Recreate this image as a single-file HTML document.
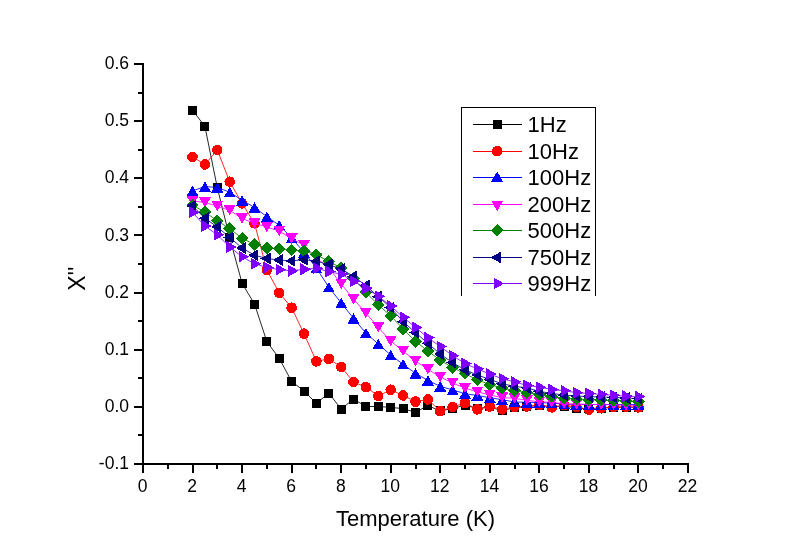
<!DOCTYPE html>
<html lang="en"><head><meta charset="utf-8"><title>Chart</title>
<style>html,body{margin:0;padding:0;background:#fff;}svg{display:block;}</style></head>
<body>
<svg width="800" height="557" viewBox="0 0 800 557">
<rect width="800" height="557" fill="#ffffff"/>
<g stroke="#000" stroke-width="2" fill="none" shape-rendering="crispEdges">
<line x1="143" y1="63" x2="143" y2="465"/>
<line x1="134" y1="464" x2="689" y2="464"/>
<line x1="138" y1="435.4" x2="143" y2="435.4"/>
<line x1="134" y1="406.9" x2="143" y2="406.9"/>
<line x1="138" y1="378.3" x2="143" y2="378.3"/>
<line x1="134" y1="349.7" x2="143" y2="349.7"/>
<line x1="138" y1="321.1" x2="143" y2="321.1"/>
<line x1="134" y1="292.6" x2="143" y2="292.6"/>
<line x1="138" y1="264.0" x2="143" y2="264.0"/>
<line x1="134" y1="235.4" x2="143" y2="235.4"/>
<line x1="138" y1="206.9" x2="143" y2="206.9"/>
<line x1="134" y1="178.3" x2="143" y2="178.3"/>
<line x1="138" y1="149.7" x2="143" y2="149.7"/>
<line x1="134" y1="121.2" x2="143" y2="121.2"/>
<line x1="138" y1="92.6" x2="143" y2="92.6"/>
<line x1="134" y1="64.0" x2="143" y2="64.0"/>
<line x1="143.0" y1="464" x2="143.0" y2="473"/>
<line x1="167.8" y1="464" x2="167.8" y2="469"/>
<line x1="192.5" y1="464" x2="192.5" y2="473"/>
<line x1="217.3" y1="464" x2="217.3" y2="469"/>
<line x1="242.1" y1="464" x2="242.1" y2="473"/>
<line x1="266.9" y1="464" x2="266.9" y2="469"/>
<line x1="291.6" y1="464" x2="291.6" y2="473"/>
<line x1="316.4" y1="464" x2="316.4" y2="469"/>
<line x1="341.2" y1="464" x2="341.2" y2="473"/>
<line x1="365.9" y1="464" x2="365.9" y2="469"/>
<line x1="390.7" y1="464" x2="390.7" y2="473"/>
<line x1="415.5" y1="464" x2="415.5" y2="469"/>
<line x1="440.2" y1="464" x2="440.2" y2="473"/>
<line x1="465.0" y1="464" x2="465.0" y2="469"/>
<line x1="489.8" y1="464" x2="489.8" y2="473"/>
<line x1="514.5" y1="464" x2="514.5" y2="469"/>
<line x1="539.3" y1="464" x2="539.3" y2="473"/>
<line x1="564.1" y1="464" x2="564.1" y2="469"/>
<line x1="588.9" y1="464" x2="588.9" y2="473"/>
<line x1="613.6" y1="464" x2="613.6" y2="469"/>
<line x1="638.4" y1="464" x2="638.4" y2="473"/>
<line x1="663.2" y1="464" x2="663.2" y2="469"/>
<line x1="687.9" y1="464" x2="687.9" y2="473"/>
</g>
<g font-family="'Liberation Sans', sans-serif" font-size="17.5" fill="#000">
<text x="129" y="469.1" text-anchor="end">-0.1</text>
<text x="129" y="412.0" text-anchor="end">0.0</text>
<text x="129" y="354.8" text-anchor="end">0.1</text>
<text x="129" y="297.7" text-anchor="end">0.2</text>
<text x="129" y="240.5" text-anchor="end">0.3</text>
<text x="129" y="183.4" text-anchor="end">0.4</text>
<text x="129" y="126.3" text-anchor="end">0.5</text>
<text x="129" y="69.1" text-anchor="end">0.6</text>
<text x="142.6" y="491.6" text-anchor="middle">0</text>
<text x="192.1" y="491.6" text-anchor="middle">2</text>
<text x="241.7" y="491.6" text-anchor="middle">4</text>
<text x="291.2" y="491.6" text-anchor="middle">6</text>
<text x="340.8" y="491.6" text-anchor="middle">8</text>
<text x="390.3" y="491.6" text-anchor="middle">10</text>
<text x="439.8" y="491.6" text-anchor="middle">12</text>
<text x="489.4" y="491.6" text-anchor="middle">14</text>
<text x="538.9" y="491.6" text-anchor="middle">16</text>
<text x="588.5" y="491.6" text-anchor="middle">18</text>
<text x="638.0" y="491.6" text-anchor="middle">20</text>
<text x="687.5" y="491.6" text-anchor="middle">22</text>
</g>
<text x="415.5" y="526" text-anchor="middle" font-family="'Liberation Sans', sans-serif" font-size="22" fill="#000">Temperature (K)</text>
<text transform="translate(84.8,290.8) rotate(-90)" font-family="'Liberation Sans', sans-serif" font-size="23" fill="#000">X''</text>
<polyline points="192.5,110.3 204.9,126.3 217.3,187.7 229.7,237.7 242.1,283.4 254.5,304.0 266.9,341.7 279.2,358.3 291.6,381.4 304.0,391.0 316.4,403.4 328.8,393.1 341.2,409.1 353.5,399.1 365.9,406.5 378.3,406.5 390.7,407.4 403.1,408.6 415.5,412.3 427.9,405.6 440.2,410.9 452.6,408.6 465.0,405.1 477.4,408.6 489.8,406.9 502.2,410.9 514.5,407.4 526.9,406.9 539.3,405.1 551.7,406.9 564.1,406.1 576.5,408.1 588.9,408.6 601.2,408.0 613.6,407.4 626.0,407.1 638.4,407.4" fill="none" stroke="#000000" stroke-width="0.85"/>
<g shape-rendering="crispEdges">
<rect x="188.0" y="105.8" width="9" height="9" fill="#000000"/>
<rect x="200.4" y="121.8" width="9" height="9" fill="#000000"/>
<rect x="212.8" y="183.2" width="9" height="9" fill="#000000"/>
<rect x="225.2" y="233.2" width="9" height="9" fill="#000000"/>
<rect x="237.6" y="278.9" width="9" height="9" fill="#000000"/>
<rect x="250.0" y="299.5" width="9" height="9" fill="#000000"/>
<rect x="262.4" y="337.2" width="9" height="9" fill="#000000"/>
<rect x="274.7" y="353.8" width="9" height="9" fill="#000000"/>
<rect x="287.1" y="376.9" width="9" height="9" fill="#000000"/>
<rect x="299.5" y="386.5" width="9" height="9" fill="#000000"/>
<rect x="311.9" y="398.9" width="9" height="9" fill="#000000"/>
<rect x="324.3" y="388.6" width="9" height="9" fill="#000000"/>
<rect x="336.7" y="404.6" width="9" height="9" fill="#000000"/>
<rect x="349.0" y="394.6" width="9" height="9" fill="#000000"/>
<rect x="361.4" y="402.0" width="9" height="9" fill="#000000"/>
<rect x="373.8" y="402.0" width="9" height="9" fill="#000000"/>
<rect x="386.2" y="402.9" width="9" height="9" fill="#000000"/>
<rect x="398.6" y="404.1" width="9" height="9" fill="#000000"/>
<rect x="411.0" y="407.8" width="9" height="9" fill="#000000"/>
<rect x="423.4" y="401.1" width="9" height="9" fill="#000000"/>
<rect x="435.7" y="406.4" width="9" height="9" fill="#000000"/>
<rect x="448.1" y="404.1" width="9" height="9" fill="#000000"/>
<rect x="460.5" y="400.6" width="9" height="9" fill="#000000"/>
<rect x="472.9" y="404.1" width="9" height="9" fill="#000000"/>
<rect x="485.3" y="402.4" width="9" height="9" fill="#000000"/>
<rect x="497.7" y="406.4" width="9" height="9" fill="#000000"/>
<rect x="510.0" y="402.9" width="9" height="9" fill="#000000"/>
<rect x="522.4" y="402.4" width="9" height="9" fill="#000000"/>
<rect x="534.8" y="400.6" width="9" height="9" fill="#000000"/>
<rect x="547.2" y="402.4" width="9" height="9" fill="#000000"/>
<rect x="559.6" y="401.6" width="9" height="9" fill="#000000"/>
<rect x="572.0" y="403.6" width="9" height="9" fill="#000000"/>
<rect x="584.4" y="404.1" width="9" height="9" fill="#000000"/>
<rect x="596.7" y="403.5" width="9" height="9" fill="#000000"/>
<rect x="609.1" y="402.9" width="9" height="9" fill="#000000"/>
<rect x="621.5" y="402.6" width="9" height="9" fill="#000000"/>
<rect x="633.9" y="402.9" width="9" height="9" fill="#000000"/>
</g>
<polyline points="192.5,156.9 204.9,164.5 217.3,150.0 229.7,181.7 242.1,203.4 254.5,223.4 266.9,270.0 279.2,292.8 291.6,307.7 304.0,333.7 316.4,361.4 328.8,358.8 341.2,367.0 353.5,381.9 365.9,387.1 378.3,396.0 390.7,389.7 403.1,395.5 415.5,401.6 427.9,399.5 440.2,411.2 452.6,406.9 465.0,403.0 477.4,409.4 489.8,406.5 502.2,409.3 514.5,406.9 526.9,406.5 539.3,405.1 551.7,407.4 564.1,405.1 576.5,407.1 588.9,409.6 601.2,408.3 613.6,407.1 626.0,406.9 638.4,407.4" fill="none" stroke="#ff0000" stroke-width="0.85"/>
<g shape-rendering="crispEdges">
<circle cx="192.5" cy="156.9" r="5.3" fill="#ff0000"/>
<circle cx="204.9" cy="164.5" r="5.3" fill="#ff0000"/>
<circle cx="217.3" cy="150.0" r="5.3" fill="#ff0000"/>
<circle cx="229.7" cy="181.7" r="5.3" fill="#ff0000"/>
<circle cx="242.1" cy="203.4" r="5.3" fill="#ff0000"/>
<circle cx="254.5" cy="223.4" r="5.3" fill="#ff0000"/>
<circle cx="266.9" cy="270.0" r="5.3" fill="#ff0000"/>
<circle cx="279.2" cy="292.8" r="5.3" fill="#ff0000"/>
<circle cx="291.6" cy="307.7" r="5.3" fill="#ff0000"/>
<circle cx="304.0" cy="333.7" r="5.3" fill="#ff0000"/>
<circle cx="316.4" cy="361.4" r="5.3" fill="#ff0000"/>
<circle cx="328.8" cy="358.8" r="5.3" fill="#ff0000"/>
<circle cx="341.2" cy="367.0" r="5.3" fill="#ff0000"/>
<circle cx="353.5" cy="381.9" r="5.3" fill="#ff0000"/>
<circle cx="365.9" cy="387.1" r="5.3" fill="#ff0000"/>
<circle cx="378.3" cy="396.0" r="5.3" fill="#ff0000"/>
<circle cx="390.7" cy="389.7" r="5.3" fill="#ff0000"/>
<circle cx="403.1" cy="395.5" r="5.3" fill="#ff0000"/>
<circle cx="415.5" cy="401.6" r="5.3" fill="#ff0000"/>
<circle cx="427.9" cy="399.5" r="5.3" fill="#ff0000"/>
<circle cx="440.2" cy="411.2" r="5.3" fill="#ff0000"/>
<circle cx="452.6" cy="406.9" r="5.3" fill="#ff0000"/>
<circle cx="465.0" cy="403.0" r="5.3" fill="#ff0000"/>
<circle cx="477.4" cy="409.4" r="5.3" fill="#ff0000"/>
<circle cx="489.8" cy="406.5" r="5.3" fill="#ff0000"/>
<circle cx="502.2" cy="409.3" r="5.3" fill="#ff0000"/>
<circle cx="514.5" cy="406.9" r="5.3" fill="#ff0000"/>
<circle cx="526.9" cy="406.5" r="5.3" fill="#ff0000"/>
<circle cx="539.3" cy="405.1" r="5.3" fill="#ff0000"/>
<circle cx="551.7" cy="407.4" r="5.3" fill="#ff0000"/>
<circle cx="564.1" cy="405.1" r="5.3" fill="#ff0000"/>
<circle cx="576.5" cy="407.1" r="5.3" fill="#ff0000"/>
<circle cx="588.9" cy="409.6" r="5.3" fill="#ff0000"/>
<circle cx="601.2" cy="408.3" r="5.3" fill="#ff0000"/>
<circle cx="613.6" cy="407.1" r="5.3" fill="#ff0000"/>
<circle cx="626.0" cy="406.9" r="5.3" fill="#ff0000"/>
<circle cx="638.4" cy="407.4" r="5.3" fill="#ff0000"/>
</g>
<polyline points="192.5,190.9 204.9,186.6 217.3,187.4 229.7,192.2 242.1,200.3 254.5,207.4 266.9,216.7 279.2,225.2 291.6,237.9 304.0,252.3 316.4,268.1 328.8,287.2 341.2,302.9 353.5,318.4 365.9,333.1 378.3,344.0 390.7,355.1 403.1,364.2 415.5,373.4 427.9,380.3 440.2,386.4 452.6,389.9 465.0,393.7 477.4,395.5 489.8,397.7 502.2,399.7 514.5,402.0 526.9,402.3 539.3,402.5 551.7,403.1 564.1,404.1 576.5,404.3 588.9,404.5 601.2,404.5 613.6,404.5 626.0,404.5 638.4,404.5" fill="none" stroke="#0000ff" stroke-width="0.85"/>
<g shape-rendering="crispEdges">
<polygon points="192.5,185.7 186.5,196.1 198.5,196.1" fill="#0000ff"/>
<polygon points="204.9,181.4 198.9,191.8 210.9,191.8" fill="#0000ff"/>
<polygon points="217.3,182.2 211.3,192.6 223.3,192.6" fill="#0000ff"/>
<polygon points="229.7,187.0 223.7,197.4 235.7,197.4" fill="#0000ff"/>
<polygon points="242.1,195.1 236.1,205.5 248.1,205.5" fill="#0000ff"/>
<polygon points="254.5,202.2 248.5,212.6 260.5,212.6" fill="#0000ff"/>
<polygon points="266.9,211.5 260.9,221.9 272.9,221.9" fill="#0000ff"/>
<polygon points="279.2,220.0 273.2,230.4 285.2,230.4" fill="#0000ff"/>
<polygon points="291.6,232.7 285.6,243.1 297.6,243.1" fill="#0000ff"/>
<polygon points="304.0,247.1 298.0,257.5 310.0,257.5" fill="#0000ff"/>
<polygon points="316.4,262.9 310.4,273.3 322.4,273.3" fill="#0000ff"/>
<polygon points="328.8,282.0 322.8,292.4 334.8,292.4" fill="#0000ff"/>
<polygon points="341.2,297.7 335.2,308.1 347.2,308.1" fill="#0000ff"/>
<polygon points="353.5,313.2 347.5,323.6 359.5,323.6" fill="#0000ff"/>
<polygon points="365.9,327.9 359.9,338.3 371.9,338.3" fill="#0000ff"/>
<polygon points="378.3,338.8 372.3,349.2 384.3,349.2" fill="#0000ff"/>
<polygon points="390.7,349.9 384.7,360.3 396.7,360.3" fill="#0000ff"/>
<polygon points="403.1,359.0 397.1,369.4 409.1,369.4" fill="#0000ff"/>
<polygon points="415.5,368.2 409.5,378.6 421.5,378.6" fill="#0000ff"/>
<polygon points="427.9,375.1 421.9,385.5 433.9,385.5" fill="#0000ff"/>
<polygon points="440.2,381.2 434.2,391.6 446.2,391.6" fill="#0000ff"/>
<polygon points="452.6,384.7 446.6,395.1 458.6,395.1" fill="#0000ff"/>
<polygon points="465.0,388.5 459.0,398.9 471.0,398.9" fill="#0000ff"/>
<polygon points="477.4,390.3 471.4,400.7 483.4,400.7" fill="#0000ff"/>
<polygon points="489.8,392.5 483.8,402.9 495.8,402.9" fill="#0000ff"/>
<polygon points="502.2,394.5 496.2,404.9 508.2,404.9" fill="#0000ff"/>
<polygon points="514.5,396.8 508.5,407.2 520.5,407.2" fill="#0000ff"/>
<polygon points="526.9,397.1 520.9,407.5 532.9,407.5" fill="#0000ff"/>
<polygon points="539.3,397.3 533.3,407.7 545.3,407.7" fill="#0000ff"/>
<polygon points="551.7,397.9 545.7,408.3 557.7,408.3" fill="#0000ff"/>
<polygon points="564.1,398.9 558.1,409.3 570.1,409.3" fill="#0000ff"/>
<polygon points="576.5,399.1 570.5,409.5 582.5,409.5" fill="#0000ff"/>
<polygon points="588.9,399.3 582.9,409.7 594.9,409.7" fill="#0000ff"/>
<polygon points="601.2,399.3 595.2,409.7 607.2,409.7" fill="#0000ff"/>
<polygon points="613.6,399.3 607.6,409.7 619.6,409.7" fill="#0000ff"/>
<polygon points="626.0,399.3 620.0,409.7 632.0,409.7" fill="#0000ff"/>
<polygon points="638.4,399.3 632.4,409.7 644.4,409.7" fill="#0000ff"/>
</g>
<polyline points="192.5,201.2 204.9,202.3 217.3,206.3 229.7,210.3 242.1,218.5 254.5,223.4 266.9,227.1 279.2,231.1 291.6,238.6 304.0,245.2 316.4,258.0 328.8,268.0 341.2,283.9 353.5,299.1 365.9,313.0 378.3,327.4 390.7,341.1 403.1,351.0 415.5,361.1 427.9,369.3 440.2,376.9 452.6,383.0 465.0,388.1 477.4,391.8 489.8,395.0 502.2,397.6 514.5,398.3 526.9,400.3 539.3,401.8 551.7,402.4 564.1,403.7 576.5,404.2 588.9,404.3 601.2,404.7 613.6,404.7 626.0,405.4 638.4,405.1" fill="none" stroke="#ff00ff" stroke-width="0.85"/>
<g shape-rendering="crispEdges">
<polygon points="192.5,206.4 186.5,196.0 198.5,196.0" fill="#ff00ff"/>
<polygon points="204.9,207.5 198.9,197.1 210.9,197.1" fill="#ff00ff"/>
<polygon points="217.3,211.5 211.3,201.1 223.3,201.1" fill="#ff00ff"/>
<polygon points="229.7,215.5 223.7,205.1 235.7,205.1" fill="#ff00ff"/>
<polygon points="242.1,223.7 236.1,213.3 248.1,213.3" fill="#ff00ff"/>
<polygon points="254.5,228.6 248.5,218.2 260.5,218.2" fill="#ff00ff"/>
<polygon points="266.9,232.3 260.9,221.9 272.9,221.9" fill="#ff00ff"/>
<polygon points="279.2,236.3 273.2,225.9 285.2,225.9" fill="#ff00ff"/>
<polygon points="291.6,243.8 285.6,233.4 297.6,233.4" fill="#ff00ff"/>
<polygon points="304.0,250.4 298.0,240.0 310.0,240.0" fill="#ff00ff"/>
<polygon points="316.4,263.2 310.4,252.8 322.4,252.8" fill="#ff00ff"/>
<polygon points="328.8,273.2 322.8,262.8 334.8,262.8" fill="#ff00ff"/>
<polygon points="341.2,289.1 335.2,278.7 347.2,278.7" fill="#ff00ff"/>
<polygon points="353.5,304.3 347.5,293.9 359.5,293.9" fill="#ff00ff"/>
<polygon points="365.9,318.2 359.9,307.8 371.9,307.8" fill="#ff00ff"/>
<polygon points="378.3,332.6 372.3,322.2 384.3,322.2" fill="#ff00ff"/>
<polygon points="390.7,346.3 384.7,335.9 396.7,335.9" fill="#ff00ff"/>
<polygon points="403.1,356.2 397.1,345.8 409.1,345.8" fill="#ff00ff"/>
<polygon points="415.5,366.3 409.5,355.9 421.5,355.9" fill="#ff00ff"/>
<polygon points="427.9,374.5 421.9,364.1 433.9,364.1" fill="#ff00ff"/>
<polygon points="440.2,382.1 434.2,371.7 446.2,371.7" fill="#ff00ff"/>
<polygon points="452.6,388.2 446.6,377.8 458.6,377.8" fill="#ff00ff"/>
<polygon points="465.0,393.3 459.0,382.9 471.0,382.9" fill="#ff00ff"/>
<polygon points="477.4,397.0 471.4,386.6 483.4,386.6" fill="#ff00ff"/>
<polygon points="489.8,400.2 483.8,389.8 495.8,389.8" fill="#ff00ff"/>
<polygon points="502.2,402.8 496.2,392.4 508.2,392.4" fill="#ff00ff"/>
<polygon points="514.5,403.5 508.5,393.1 520.5,393.1" fill="#ff00ff"/>
<polygon points="526.9,405.5 520.9,395.1 532.9,395.1" fill="#ff00ff"/>
<polygon points="539.3,407.0 533.3,396.6 545.3,396.6" fill="#ff00ff"/>
<polygon points="551.7,407.6 545.7,397.2 557.7,397.2" fill="#ff00ff"/>
<polygon points="564.1,408.9 558.1,398.5 570.1,398.5" fill="#ff00ff"/>
<polygon points="576.5,409.4 570.5,399.0 582.5,399.0" fill="#ff00ff"/>
<polygon points="588.9,409.5 582.9,399.1 594.9,399.1" fill="#ff00ff"/>
<polygon points="601.2,409.9 595.2,399.5 607.2,399.5" fill="#ff00ff"/>
<polygon points="613.6,409.9 607.6,399.5 619.6,399.5" fill="#ff00ff"/>
<polygon points="626.0,410.6 620.0,400.2 632.0,400.2" fill="#ff00ff"/>
<polygon points="638.4,410.3 632.4,399.9 644.4,399.9" fill="#ff00ff"/>
</g>
<polyline points="192.5,205.2 204.9,212.0 217.3,220.8 229.7,228.6 242.1,238.3 254.5,244.5 266.9,248.0 279.2,248.7 291.6,250.0 304.0,251.0 316.4,254.9 328.8,261.2 341.2,268.1 353.5,278.6 365.9,292.3 378.3,304.9 390.7,315.7 403.1,329.0 415.5,341.3 427.9,351.1 440.2,360.1 452.6,367.7 465.0,373.7 477.4,379.9 489.8,384.6 502.2,388.1 514.5,390.6 526.9,392.7 539.3,394.5 551.7,396.6 564.1,398.4 576.5,399.0 588.9,399.7 601.2,400.1 613.6,400.5 626.0,400.9 638.4,401.5" fill="none" stroke="#008000" stroke-width="0.85"/>
<g shape-rendering="crispEdges">
<polygon points="192.5,198.9 198.8,205.2 192.5,211.5 186.2,205.2" fill="#008000"/>
<polygon points="204.9,205.7 211.2,212.0 204.9,218.3 198.6,212.0" fill="#008000"/>
<polygon points="217.3,214.5 223.6,220.8 217.3,227.1 211.0,220.8" fill="#008000"/>
<polygon points="229.7,222.3 236.0,228.6 229.7,234.9 223.4,228.6" fill="#008000"/>
<polygon points="242.1,232.0 248.4,238.3 242.1,244.6 235.8,238.3" fill="#008000"/>
<polygon points="254.5,238.2 260.8,244.5 254.5,250.8 248.2,244.5" fill="#008000"/>
<polygon points="266.9,241.7 273.2,248.0 266.9,254.3 260.6,248.0" fill="#008000"/>
<polygon points="279.2,242.4 285.5,248.7 279.2,255.0 272.9,248.7" fill="#008000"/>
<polygon points="291.6,243.7 297.9,250.0 291.6,256.3 285.3,250.0" fill="#008000"/>
<polygon points="304.0,244.7 310.3,251.0 304.0,257.3 297.7,251.0" fill="#008000"/>
<polygon points="316.4,248.6 322.7,254.9 316.4,261.2 310.1,254.9" fill="#008000"/>
<polygon points="328.8,254.9 335.1,261.2 328.8,267.5 322.5,261.2" fill="#008000"/>
<polygon points="341.2,261.8 347.5,268.1 341.2,274.4 334.9,268.1" fill="#008000"/>
<polygon points="353.5,272.3 359.8,278.6 353.5,284.9 347.2,278.6" fill="#008000"/>
<polygon points="365.9,286.0 372.2,292.3 365.9,298.6 359.6,292.3" fill="#008000"/>
<polygon points="378.3,298.6 384.6,304.9 378.3,311.2 372.0,304.9" fill="#008000"/>
<polygon points="390.7,309.4 397.0,315.7 390.7,322.0 384.4,315.7" fill="#008000"/>
<polygon points="403.1,322.7 409.4,329.0 403.1,335.3 396.8,329.0" fill="#008000"/>
<polygon points="415.5,335.0 421.8,341.3 415.5,347.6 409.2,341.3" fill="#008000"/>
<polygon points="427.9,344.8 434.2,351.1 427.9,357.4 421.6,351.1" fill="#008000"/>
<polygon points="440.2,353.8 446.5,360.1 440.2,366.4 433.9,360.1" fill="#008000"/>
<polygon points="452.6,361.4 458.9,367.7 452.6,374.0 446.3,367.7" fill="#008000"/>
<polygon points="465.0,367.4 471.3,373.7 465.0,380.0 458.7,373.7" fill="#008000"/>
<polygon points="477.4,373.6 483.7,379.9 477.4,386.2 471.1,379.9" fill="#008000"/>
<polygon points="489.8,378.3 496.1,384.6 489.8,390.9 483.5,384.6" fill="#008000"/>
<polygon points="502.2,381.8 508.5,388.1 502.2,394.4 495.9,388.1" fill="#008000"/>
<polygon points="514.5,384.3 520.8,390.6 514.5,396.9 508.2,390.6" fill="#008000"/>
<polygon points="526.9,386.4 533.2,392.7 526.9,399.0 520.6,392.7" fill="#008000"/>
<polygon points="539.3,388.2 545.6,394.5 539.3,400.8 533.0,394.5" fill="#008000"/>
<polygon points="551.7,390.3 558.0,396.6 551.7,402.9 545.4,396.6" fill="#008000"/>
<polygon points="564.1,392.1 570.4,398.4 564.1,404.7 557.8,398.4" fill="#008000"/>
<polygon points="576.5,392.7 582.8,399.0 576.5,405.3 570.2,399.0" fill="#008000"/>
<polygon points="588.9,393.4 595.2,399.7 588.9,406.0 582.6,399.7" fill="#008000"/>
<polygon points="601.2,393.8 607.5,400.1 601.2,406.4 594.9,400.1" fill="#008000"/>
<polygon points="613.6,394.2 619.9,400.5 613.6,406.8 607.3,400.5" fill="#008000"/>
<polygon points="626.0,394.6 632.3,400.9 626.0,407.2 619.7,400.9" fill="#008000"/>
<polygon points="638.4,395.2 644.7,401.5 638.4,407.8 632.1,401.5" fill="#008000"/>
</g>
<polyline points="192.5,205.9 204.9,218.3 217.3,226.9 229.7,237.4 242.1,248.0 254.5,255.2 266.9,258.5 279.2,260.0 291.6,260.9 304.0,259.6 316.4,261.2 328.8,264.6 341.2,269.0 353.5,276.4 365.9,285.6 378.3,296.6 390.7,307.6 403.1,321.7 415.5,332.6 427.9,343.3 440.2,354.0 452.6,362.7 465.0,369.8 477.4,375.0 489.8,379.4 502.2,383.8 514.5,386.3 526.9,387.9 539.3,391.4 551.7,393.4 564.1,395.1 576.5,396.0 588.9,396.6 601.2,397.0 613.6,397.4 626.0,398.0 638.4,398.6" fill="none" stroke="#000080" stroke-width="0.85"/>
<g shape-rendering="crispEdges">
<polygon points="186.1,205.9 196.2,199.9 196.2,211.9" fill="#000080"/>
<polygon points="198.5,218.3 208.6,212.3 208.6,224.3" fill="#000080"/>
<polygon points="210.9,226.9 221.0,220.9 221.0,232.9" fill="#000080"/>
<polygon points="223.3,237.4 233.4,231.4 233.4,243.4" fill="#000080"/>
<polygon points="235.7,248.0 245.8,242.0 245.8,254.0" fill="#000080"/>
<polygon points="248.1,255.2 258.2,249.2 258.2,261.2" fill="#000080"/>
<polygon points="260.5,258.5 270.6,252.5 270.6,264.5" fill="#000080"/>
<polygon points="272.8,260.0 282.9,254.0 282.9,266.0" fill="#000080"/>
<polygon points="285.2,260.9 295.3,254.9 295.3,266.9" fill="#000080"/>
<polygon points="297.6,259.6 307.7,253.6 307.7,265.6" fill="#000080"/>
<polygon points="310.0,261.2 320.1,255.2 320.1,267.2" fill="#000080"/>
<polygon points="322.4,264.6 332.5,258.6 332.5,270.6" fill="#000080"/>
<polygon points="334.8,269.0 344.9,263.0 344.9,275.0" fill="#000080"/>
<polygon points="347.1,276.4 357.2,270.4 357.2,282.4" fill="#000080"/>
<polygon points="359.5,285.6 369.6,279.6 369.6,291.6" fill="#000080"/>
<polygon points="371.9,296.6 382.0,290.6 382.0,302.6" fill="#000080"/>
<polygon points="384.3,307.6 394.4,301.6 394.4,313.6" fill="#000080"/>
<polygon points="396.7,321.7 406.8,315.7 406.8,327.7" fill="#000080"/>
<polygon points="409.1,332.6 419.2,326.6 419.2,338.6" fill="#000080"/>
<polygon points="421.5,343.3 431.6,337.3 431.6,349.3" fill="#000080"/>
<polygon points="433.8,354.0 443.9,348.0 443.9,360.0" fill="#000080"/>
<polygon points="446.2,362.7 456.3,356.7 456.3,368.7" fill="#000080"/>
<polygon points="458.6,369.8 468.7,363.8 468.7,375.8" fill="#000080"/>
<polygon points="471.0,375.0 481.1,369.0 481.1,381.0" fill="#000080"/>
<polygon points="483.4,379.4 493.5,373.4 493.5,385.4" fill="#000080"/>
<polygon points="495.8,383.8 505.9,377.8 505.9,389.8" fill="#000080"/>
<polygon points="508.1,386.3 518.2,380.3 518.2,392.3" fill="#000080"/>
<polygon points="520.5,387.9 530.6,381.9 530.6,393.9" fill="#000080"/>
<polygon points="532.9,391.4 543.0,385.4 543.0,397.4" fill="#000080"/>
<polygon points="545.3,393.4 555.4,387.4 555.4,399.4" fill="#000080"/>
<polygon points="557.7,395.1 567.8,389.1 567.8,401.1" fill="#000080"/>
<polygon points="570.1,396.0 580.2,390.0 580.2,402.0" fill="#000080"/>
<polygon points="582.5,396.6 592.6,390.6 592.6,402.6" fill="#000080"/>
<polygon points="594.8,397.0 604.9,391.0 604.9,403.0" fill="#000080"/>
<polygon points="607.2,397.4 617.3,391.4 617.3,403.4" fill="#000080"/>
<polygon points="619.6,398.0 629.7,392.0 629.7,404.0" fill="#000080"/>
<polygon points="632.0,398.6 642.1,392.6 642.1,404.6" fill="#000080"/>
</g>
<polyline points="192.5,212.4 204.9,226.0 217.3,234.8 229.7,247.0 242.1,256.7 254.5,263.8 266.9,267.4 279.2,269.7 291.6,270.8 304.0,269.3 316.4,268.2 328.8,271.6 341.2,274.2 353.5,281.3 365.9,288.2 378.3,296.2 390.7,306.1 403.1,317.2 415.5,327.4 427.9,337.7 440.2,346.5 452.6,355.7 465.0,363.6 477.4,368.9 489.8,374.1 502.2,378.7 514.5,381.9 526.9,385.4 539.3,387.2 551.7,389.5 564.1,390.7 576.5,392.7 588.9,393.4 601.2,394.4 613.6,395.3 626.0,396.2 638.4,396.5" fill="none" stroke="#8000ff" stroke-width="0.85"/>
<g shape-rendering="crispEdges">
<polygon points="199.5,212.4 188.9,206.4 188.9,218.4" fill="#8000ff"/>
<polygon points="211.9,226.0 201.3,220.0 201.3,232.0" fill="#8000ff"/>
<polygon points="224.3,234.8 213.7,228.8 213.7,240.8" fill="#8000ff"/>
<polygon points="236.7,247.0 226.1,241.0 226.1,253.0" fill="#8000ff"/>
<polygon points="249.1,256.7 238.5,250.7 238.5,262.7" fill="#8000ff"/>
<polygon points="261.5,263.8 250.9,257.8 250.9,269.8" fill="#8000ff"/>
<polygon points="273.9,267.4 263.2,261.4 263.2,273.4" fill="#8000ff"/>
<polygon points="286.2,269.7 275.6,263.7 275.6,275.7" fill="#8000ff"/>
<polygon points="298.6,270.8 288.0,264.8 288.0,276.8" fill="#8000ff"/>
<polygon points="311.0,269.3 300.4,263.3 300.4,275.3" fill="#8000ff"/>
<polygon points="323.4,268.2 312.8,262.2 312.8,274.2" fill="#8000ff"/>
<polygon points="335.8,271.6 325.2,265.6 325.2,277.6" fill="#8000ff"/>
<polygon points="348.2,274.2 337.6,268.2 337.6,280.2" fill="#8000ff"/>
<polygon points="360.5,281.3 349.9,275.3 349.9,287.3" fill="#8000ff"/>
<polygon points="372.9,288.2 362.3,282.2 362.3,294.2" fill="#8000ff"/>
<polygon points="385.3,296.2 374.7,290.2 374.7,302.2" fill="#8000ff"/>
<polygon points="397.7,306.1 387.1,300.1 387.1,312.1" fill="#8000ff"/>
<polygon points="410.1,317.2 399.5,311.2 399.5,323.2" fill="#8000ff"/>
<polygon points="422.5,327.4 411.9,321.4 411.9,333.4" fill="#8000ff"/>
<polygon points="434.9,337.7 424.3,331.7 424.3,343.7" fill="#8000ff"/>
<polygon points="447.2,346.5 436.6,340.5 436.6,352.5" fill="#8000ff"/>
<polygon points="459.6,355.7 449.0,349.7 449.0,361.7" fill="#8000ff"/>
<polygon points="472.0,363.6 461.4,357.6 461.4,369.6" fill="#8000ff"/>
<polygon points="484.4,368.9 473.8,362.9 473.8,374.9" fill="#8000ff"/>
<polygon points="496.8,374.1 486.2,368.1 486.2,380.1" fill="#8000ff"/>
<polygon points="509.2,378.7 498.6,372.7 498.6,384.7" fill="#8000ff"/>
<polygon points="521.5,381.9 510.9,375.9 510.9,387.9" fill="#8000ff"/>
<polygon points="533.9,385.4 523.3,379.4 523.3,391.4" fill="#8000ff"/>
<polygon points="546.3,387.2 535.7,381.2 535.7,393.2" fill="#8000ff"/>
<polygon points="558.7,389.5 548.1,383.5 548.1,395.5" fill="#8000ff"/>
<polygon points="571.1,390.7 560.5,384.7 560.5,396.7" fill="#8000ff"/>
<polygon points="583.5,392.7 572.9,386.7 572.9,398.7" fill="#8000ff"/>
<polygon points="595.9,393.4 585.3,387.4 585.3,399.4" fill="#8000ff"/>
<polygon points="608.2,394.4 597.6,388.4 597.6,400.4" fill="#8000ff"/>
<polygon points="620.6,395.3 610.0,389.3 610.0,401.3" fill="#8000ff"/>
<polygon points="633.0,396.2 622.4,390.2 622.4,402.2" fill="#8000ff"/>
<polygon points="645.4,396.5 634.8,390.5 634.8,402.5" fill="#8000ff"/>
</g>
<path d="M461.5 295.5 V107.5 H595.5 V295.5" fill="#fff" stroke="#000" stroke-width="1" shape-rendering="crispEdges"/>
<g font-family="'Liberation Sans', sans-serif" font-size="22" fill="#000">
<line x1="473" y1="124.5" x2="522" y2="124.5" stroke="#000000" stroke-width="1" shape-rendering="crispEdges"/>
<g shape-rendering="crispEdges"><rect x="492.7" y="120.0" width="9" height="9" fill="#000000"/></g>
<text x="527.6" y="132.0">1Hz</text>
<line x1="473" y1="151.2" x2="522" y2="151.2" stroke="#ff0000" stroke-width="1" shape-rendering="crispEdges"/>
<g shape-rendering="crispEdges"><circle cx="497.2" cy="151.2" r="5.3" fill="#ff0000"/></g>
<text x="527.6" y="158.7">10Hz</text>
<line x1="473" y1="177.5" x2="522" y2="177.5" stroke="#0000ff" stroke-width="1" shape-rendering="crispEdges"/>
<g shape-rendering="crispEdges"><polygon points="497.2,171.4 491.2,181.8 503.2,181.8" fill="#0000ff"/></g>
<text x="527.6" y="185.0">100Hz</text>
<line x1="473" y1="204.2" x2="522" y2="204.2" stroke="#ff00ff" stroke-width="1" shape-rendering="crispEdges"/>
<g shape-rendering="crispEdges"><polygon points="497.2,211.2 491.2,200.8 503.2,200.8" fill="#ff00ff"/></g>
<text x="527.6" y="211.7">200Hz</text>
<line x1="473" y1="230.5" x2="522" y2="230.5" stroke="#008000" stroke-width="1" shape-rendering="crispEdges"/>
<g shape-rendering="crispEdges"><polygon points="497.2,224.2 503.5,230.5 497.2,236.8 490.9,230.5" fill="#008000"/></g>
<text x="527.6" y="238.0">500Hz</text>
<line x1="473" y1="257.5" x2="522" y2="257.5" stroke="#000080" stroke-width="1" shape-rendering="crispEdges"/>
<g shape-rendering="crispEdges"><polygon points="490.8,257.5 500.9,251.5 500.9,263.5" fill="#000080"/></g>
<text x="527.6" y="265.0">750Hz</text>
<line x1="473" y1="283.5" x2="522" y2="283.5" stroke="#8000ff" stroke-width="1" shape-rendering="crispEdges"/>
<g shape-rendering="crispEdges"><polygon points="504.2,283.5 493.6,277.5 493.6,289.5" fill="#8000ff"/></g>
<text x="527.6" y="291.0">999Hz</text>
</g>
</svg>
</body></html>
